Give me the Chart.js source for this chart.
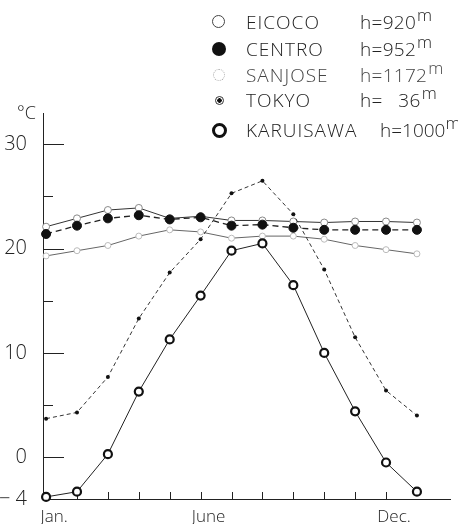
<!DOCTYPE html>
<html>
<head>
<meta charset="utf-8">
<script src="https://cdn.jsdelivr.net/npm/chart.js@4/dist/chart.umd.min.js"></script>
<style>
  html,body{margin:0;padding:0;background:#fff;}
  #wrap{position:relative;width:458px;height:524px;overflow:hidden;}
  canvas{position:absolute;left:0;top:0;}
  .lg{position:absolute;font-family:'Open Sans',sans-serif;font-weight:300;font-size:19px;color:#222;letter-spacing:1px;white-space:nowrap;line-height:20px;}
  .mk{position:absolute;border-radius:50%;box-sizing:border-box;}
  .h{position:absolute;top:0;letter-spacing:0.3px;}
  .m{position:relative;top:-8px;font-size:17px;margin-left:1px;}
  #unit{position:absolute;left:17px;top:100px;font-family:'Open Sans',sans-serif;font-weight:300;font-size:18px;color:#222;}
</style>
</head>
<body>
<div id="wrap">
  <canvas id="c" width="458" height="524"></canvas>
  <div id="unit">°C</div>
  <div class="mk" style="left:212px;top:15px;width:13px;height:13px;border:1px solid #444;"></div>
  <div class="lg" style="left:246px;top:12px;"><span>EICOCO</span><span class="h" style="left:114px;">h=920<span class="m">m</span></span></div>
  <div class="mk" style="left:212px;top:42px;width:14px;height:14px;background:#111;"></div>
  <div class="lg" style="left:246px;top:39px;"><span>CENTRO</span><span class="h" style="left:114px;">h=952<span class="m">m</span></span></div>
  <div class="mk" style="left:213px;top:69px;width:12px;height:12px;border:1px dotted #aaa;"></div>
  <div class="lg" style="left:246px;top:65px;color:#444;"><span>SANJOSE</span><span class="h" style="left:114px;">h=1172<span class="m">m</span></span></div>
  <div class="mk" style="left:215px;top:96px;width:9px;height:9px;border:1px solid #333;background:radial-gradient(circle,#111 0 2px,#fff 2.5px);"></div>
  <div class="lg" style="left:246px;top:90px;"><span>TOKYO</span><span class="h" style="left:114px;">h=&nbsp;&nbsp;&nbsp;36<span class="m">m</span></span></div>
  <div class="mk" style="left:212px;top:123px;width:15px;height:15px;border:3px solid #111;"></div>
  <div class="lg" style="left:246px;top:120px;"><span>KARUISAWA</span><span class="h" style="left:134px;letter-spacing:0;">h=1000<span class="m" style="margin-left:0;">m</span></span></div>
</div>
<script>
// x categories (13 monthly points, Jan. .. Jan.)
const monthLabels = ['Jan.', '', '', '', '', 'June', '', '', '', '', '', 'Dec.', ''];
// y tick labels
const yTickValues = [-4, 0, 5, 10, 15, 20, 25, 30];
const yTickLabels = {'-4': '\u2212 4', '0': '0', '10': '10', '20': '20', '30': '30'};

// series (°C)
const eicoco    = [22.1, 22.9, 23.7, 23.9, 22.9, 23.1, 22.7, 22.7, 22.6, 22.5, 22.6, 22.6, 22.5];
const centro    = [21.4, 22.2, 22.9, 23.2, 22.8, 23.0, 22.2, 22.3, 22.0, 21.8, 21.8, 21.8, 21.8];
const sanjose   = [19.3, 19.8, 20.3, 21.2, 21.8, 21.6, 21.0, 21.2, 21.2, 20.9, 20.3, 19.9, 19.5];
const tokyo     = [3.7, 4.3, 7.7, 13.3, 17.7, 20.9, 25.3, 26.5, 23.3, 18.0, 11.5, 6.4, 4.0];
const karuisawa = [-3.8, -3.3, 0.3, 6.3, 11.3, 15.5, 19.8, 20.5, 16.5, 10.0, 4.4, -0.5, -3.3];

const toXY = arr => arr.map((v, i) => ({x: i, y: v}));

Chart.defaults.font.family = "'Open Sans', sans-serif";
Chart.defaults.color = '#222';

const inwardTicks = {
  id: 'inwardTicks',
  beforeDatasetsDraw(chart) {
    const ctx = chart.ctx, xs = chart.scales.x, ys = chart.scales.y;
    const a = chart.chartArea;
    ctx.save();
    ctx.strokeStyle = '#222';
    ctx.lineWidth = 1;
    ctx.beginPath();
    [30, 25, 20, 15, 10, 5, 0].forEach(v => {
      const y = Math.round(ys.getPixelForValue(v)) + 0.5;
      const len = (v % 10 === 0) ? 21 : 10;
      ctx.moveTo(a.left, y); ctx.lineTo(a.left + len, y);
    });
    for (let i = 1; i <= 11; i++) {
      const x = Math.round(xs.getPixelForValue(i)) + 0.5;
      ctx.moveTo(x, a.bottom); ctx.lineTo(x, a.bottom - 7);
    }
    ctx.stroke();
    ctx.restore();
  }
};

new Chart(document.getElementById('c'), {
  type: 'line',
  data: {
    datasets: [
      {label: 'KARUISAWA', data: toXY(karuisawa), borderColor: '#222', borderWidth: 1,
       pointRadius: 4, pointBorderWidth: 2.2, pointBackgroundColor: '#fff', pointBorderColor: '#111', tension: 0},
      {label: 'TOKYO', data: toXY(tokyo), borderColor: '#333', borderWidth: 1, borderDash: [4, 3],
       pointRadius: 2, pointBorderWidth: 0, pointBackgroundColor: '#111', tension: 0},
      {label: 'CENTRO', data: toXY(centro), borderColor: '#222', borderWidth: 1.3, borderDash: [6, 4],
       pointRadius: 4.5, pointBorderWidth: 1, pointBackgroundColor: '#111', pointBorderColor: '#111', tension: 0},
      {label: 'EICOCO', data: toXY(eicoco), borderColor: '#333', borderWidth: 1,
       pointRadius: 3.5, pointBorderWidth: 1, pointBackgroundColor: '#fff', pointBorderColor: '#888', tension: 0},
      {label: 'SANJOSE', data: toXY(sanjose), borderColor: '#666', borderWidth: 1,
       pointRadius: 3, pointBorderWidth: 1, pointBackgroundColor: '#fff', pointBorderColor: '#bbb', tension: 0}
    ]
  },
  options: {
    responsive: false,
    animation: false,
    clip: false,
    layout: {padding: {top: 113, right: 8, left: 0, bottom: 0}},
    plugins: {legend: {display: false}, tooltip: {enabled: false}},
    scales: {
      x: {
        type: 'linear', min: -0.1, max: 13.07,
        grid: {display: false},
        border: {display: true, color: '#222', width: 1},
        afterBuildTicks: s => { s.ticks = monthLabels.map((_, i) => ({value: i})); },
        afterFit: s => { s.height = 25; },
        ticks: {autoSkip: false, maxRotation: 0, padding: 1, labelOffset: 8,
                font: {size: 17, weight: 300, lineHeight: 1.1}, color: '#222',
                callback: v => monthLabels[v] ?? ''}
      },
      y: {
        min: -4, max: 33,
        grid: {display: false},
        border: {display: true, color: '#222', width: 1},
        afterBuildTicks: s => { s.ticks = yTickValues.map(v => ({value: v})); },
        afterFit: s => { s.width = 43; },
        ticks: {padding: 8, font: {size: 20, weight: 300}, color: '#222',
                callback: v => yTickLabels[String(v)] ?? ''}
      }
    }
  },
  plugins: [inwardTicks]
});
</script>
</body>
</html>
